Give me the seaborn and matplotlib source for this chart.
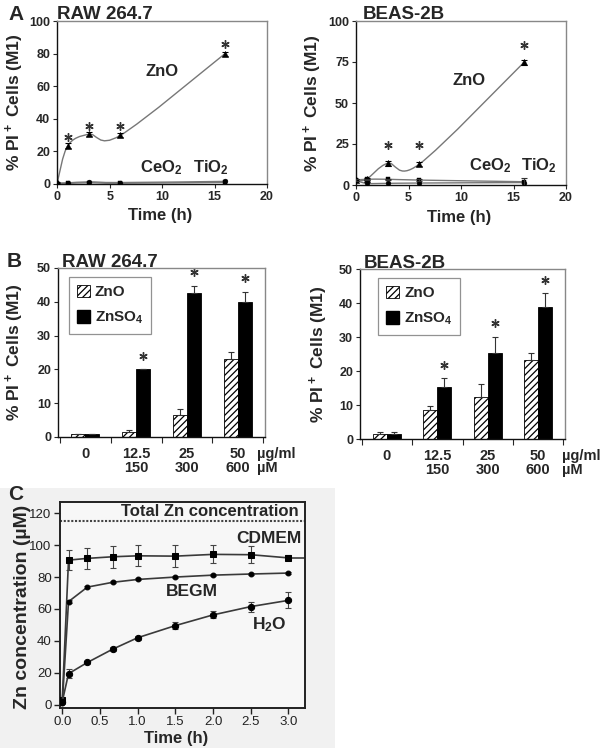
import numpy as np
import pandas as pd
import seaborn as sns
import matplotlib.pyplot as plt
from matplotlib.path import Path
from matplotlib.patches import PathPatch, Rectangle, Patch
from matplotlib.transforms import ScaledTranslation

sns.set_theme(style="ticks")
plt.rcParams['font.family'] = ['Liberation Sans', 'DejaVu Sans']
plt.rcParams['font.weight'] = 'bold'
plt.rcParams['mathtext.fontset'] = 'custom'
plt.rcParams['mathtext.rm'] = 'Liberation Sans:bold'
plt.rcParams['mathtext.bf'] = 'Liberation Sans:bold'
plt.rcParams['mathtext.default'] = 'rm'
plt.rcParams['hatch.linewidth'] = 0.9

# ---------------- data: panel A (time course, % PI+ cells)
time_a = [0, 1, 3, 6, 16]
raw_zno = [1.0, 23.5, 30.5, 29.8, 80.0]
raw_zno_err = [0.5, 1.5, 1.2, 1.2, 1.2]
raw_ceo2 = [0.6, 0.7, 1.3, 0.9, 1.6]
raw_tio2 = [0.3, 0.4, 0.8, 0.5, 1.0]
raw_star_t = [1, 3, 6, 16]

beas_zno = [3.0, 3.5, 13.2, 12.6, 74.8]
beas_zno_err = [0.5, 0.5, 1.5, 1.2, 1.5]
beas_ceo2 = [3.0, 1.0, 1.0, 1.2, 1.5]
beas_tio2 = [3.0, 3.5, 3.5, 3.0, 2.0]
beas_tio2_err = [0.5, 0.3, 0.3, 0.5, 2.5]
beas_star_t = [3, 6, 16]

# ---------------- data: panel B (dose response)
conc_labels = ['0', '12.5\n150', '25\n300', '50\n600']
agents = ['ZnO', 'ZnSO4']
raw_b_zno = [1.0, 1.5, 6.5, 23.0]
raw_b_zno_err = [0.0, 0.7, 1.8, 2.2]
raw_b_znso4 = [1.0, 20.0, 42.5, 40.0]
raw_b_znso4_err = [0.0, 0.0, 2.3, 3.0]
raw_b_star = [False, True, True, True]

beas_b_zno = [1.5, 8.5, 12.5, 23.2]
beas_b_zno_err = [0.5, 1.2, 3.8, 2.2]
beas_b_znso4 = [1.5, 15.3, 25.3, 38.7]
beas_b_znso4_err = [0.5, 2.5, 4.7, 4.2]
beas_b_star = [False, True, True, True]

# ---------------- data: panel C (dissolution)
time_c = [0, 0.083, 0.333, 0.667, 1.0, 1.5, 2.0, 2.5, 3.0]
cdmem = [3.0, 90.6, 91.7, 92.7, 93.3, 93.1, 94.2, 94.0, 92.0]
cdmem_err = [1.0, 6.3, 6.8, 6.9, 6.5, 6.8, 5.7, 5.2, 1.5]
begm = [1.0, 64.6, 73.7, 76.7, 78.5, 80.0, 81.2, 81.9, 82.5]
begm_err = [0.5, 0.8, 0.6, 0.6, 0.6, 0.6, 0.6, 0.6, 0.8]
h2o = [2.0, 19.5, 26.5, 34.8, 42.0, 49.6, 56.3, 61.5, 65.4]
h2o_err = [1.0, 2.8, 1.2, 1.3, 1.2, 2.0, 2.2, 3.1, 5.0]
total_zn = 115

fig = plt.figure(figsize=(6, 7.52), dpi=100)
fig.patches.append(Rectangle((0, 4 / 752), 335 / 600, 260 / 752, transform=fig.transFigure,
                             facecolor='#f1f1f1', edgecolor='none', zorder=-5))


def smooth_path(x, y):
    # Excel-like smoothed line (Catmull-Rom as cubic Bezier)
    pts = np.column_stack([x, y]).astype(float)
    n = len(pts)
    verts, codes = [pts[0]], [Path.MOVETO]
    for i in range(n - 1):
        p0, p1 = pts[max(i - 1, 0)], pts[i]
        p2, p3 = pts[i + 1], pts[min(i + 2, n - 1)]
        verts += [p1 + (p2 - p0) / 6, p2 - (p3 - p1) / 6, p2]
        codes += [Path.CURVE4] * 3
    return Path(verts, codes)


def frame(ax, dark='#111111', light='#888888'):
    for s in ['left', 'bottom']:
        ax.spines[s].set_color(dark)
        ax.spines[s].set_linewidth(1.0)
    for s in ['top', 'right']:
        ax.spines[s].set_visible(True)
        ax.spines[s].set_color(light)
        ax.spines[s].set_linewidth(1.0)


def panel_a(rect, title, zno, zno_err, ceo2, tio2, tio2_err, star_t, star_off, yticks,
            zno_xy, ceo_x, tio_x, lab_y, title_dx, ylab_x):
    ax = fig.add_axes(rect)
    for vals, mk, ms in [(ceo2, 'o', 3.5), (tio2, 's', 3), (zno, '^', 4.5)]:
        ax.add_patch(PathPatch(smooth_path(time_a, vals), facecolor='none',
                               edgecolor='#777777', lw=1.0, zorder=2))
        sns.scatterplot(x=time_a, y=vals, marker=mk, s=ms ** 2, color='black',
                        edgecolor='black', linewidth=0.3, ax=ax, zorder=3, legend=False)
    ax.errorbar(time_a, zno, yerr=zno_err, fmt='none', ecolor='black', elinewidth=0.8,
                capsize=2, capthick=0.8, zorder=3)
    if tio2_err is not None:
        ax.errorbar(time_a, tio2, yerr=tio2_err, fmt='none', ecolor='#333333',
                    elinewidth=0.8, capsize=2, capthick=0.8, zorder=3)
    sy = [zno[time_a.index(t)] + star_off[i] for i, t in enumerate(star_t)]
    ax.plot(star_t, sy, ls='none', marker=(6, 2, 0), ms=6, mew=1.0, color='#333333')
    ax.text(zno_xy[0], zno_xy[1], 'ZnO', ha='center', va='center', fontsize=12)
    ax.text(ceo_x, lab_y, 'CeO$_2$', ha='center', va='center', fontsize=12)
    ax.text(tio_x, lab_y, 'TiO$_2$', ha='center', va='center', fontsize=12)
    ax.set_xlim(0, 20)
    ax.set_ylim(0, 100)
    ax.set_xticks([0, 5, 10, 15, 20])
    ax.set_yticks(yticks)
    ax.tick_params(labelsize=9, length=3, width=0.8, pad=2)
    ax.set_xlabel('Time (h)', fontsize=12, fontweight='bold')
    ax.set_ylabel('% PI$^+$ Cells (M1)', fontsize=12.5, fontweight='bold')
    ax.yaxis.set_label_coords(ylab_x, 0.5)
    ax.xaxis.set_label_coords(0.49, -0.15)
    ax.text(title_dx, 1.012, title, transform=ax.transAxes, ha='left', va='baseline',
            fontsize=13.5)
    frame(ax)
    return ax


panel_a([57.3 / 600, 1 - 184 / 752, 209.7 / 600, 163 / 752], 'RAW 264.7',
        raw_zno, raw_zno_err, raw_ceo2, raw_tio2, None, raw_star_t, [5.5, 5.2, 5.8, 6.0],
        [0, 20, 40, 60, 80, 100], (10, 69), 9.9, 14.7, 9.8, 0.0, -0.149)
panel_a([356 / 600, 1 - 185 / 752, 210 / 600, 164 / 752], 'BEAS-2B',
        beas_zno, beas_zno_err, beas_ceo2, beas_tio2, beas_tio2_err, beas_star_t,
        [11.2, 11.8, 10.6], [0, 25, 50, 75, 100], (10.8, 64), 12.8, 17.4, 12, 0.033, -0.15)


def panel_b(rect, title, zno, zno_err, znso4, znso4_err, stars, leg_xy, unit_x, ylab_x):
    ax = fig.add_axes(rect)
    df = pd.DataFrame({'conc': conc_labels * 2,
                       'val': zno + znso4,
                       'agent': [agents[0]] * 4 + [agents[1]] * 4})
    sns.barplot(data=df, x='conc', y='val', hue='agent', order=conc_labels,
                hue_order=agents, palette={'ZnO': 'white', 'ZnSO4': 'black'},
                width=0.56, edgecolor='black', linewidth=0.6, ax=ax, legend=False)
    bars = list(ax.patches)
    for p in bars[:4]:
        p.set_hatch('/////')
    xz = [p.get_x() + p.get_width() / 2 for p in bars[:4]]
    xs = [p.get_x() + p.get_width() / 2 for p in bars[4:8]]
    ax.errorbar(xz, zno, yerr=[np.zeros(4), zno_err], fmt='none', ecolor='#333333',
                elinewidth=0.8, capsize=2, capthick=0.8)
    ax.errorbar(xs, znso4, yerr=[np.zeros(4), znso4_err], fmt='none', ecolor='#333333',
                elinewidth=0.8, capsize=2, capthick=0.8)
    sx = [x for x, s in zip(xs, stars) if s]
    sy = [v + e + 4 for v, e, s in zip(znso4, znso4_err, stars) if s]
    ax.plot(sx, sy, ls='none', marker=(6, 2, 0), ms=6, mew=1.0, color='#333333')
    ax.set_xlim(-0.53, 3.53)
    ax.set_ylim(0, 50)
    ax.set_yticks([0, 10, 20, 30, 40, 50])
    ax.set_xticks([-0.5, 0.5, 1.5, 2.5, 3.5], minor=True)
    ax.tick_params(axis='x', which='major', length=0, pad=7, labelsize=10.5)
    ax.tick_params(axis='x', which='minor', length=4, width=0.8)
    ax.tick_params(axis='y', labelsize=9, length=3, width=0.8, pad=2)
    for lab in ax.get_xticklabels():
        lab.set_linespacing(1.05)
    ax.set_xlabel('')
    ax.set_ylabel('% PI$^+$ Cells (M1)', fontsize=12.5, fontweight='bold')
    ax.yaxis.set_label_coords(ylab_x, 0.5)
    tr = ax.transAxes + ScaledTranslation(0, -7 / 72, fig.dpi_scale_trans)
    ax.text(unit_x, 0, 'µg/ml\nµM', transform=tr, ha='left', va='top', fontsize=10.5,
            linespacing=1.05)
    ax.text(0.02, 1.005, title, transform=ax.transAxes, ha='left', va='baseline',
            fontsize=13.5)
    handles = [Patch(facecolor='white', edgecolor='black', hatch='/////', lw=0.6),
               Patch(facecolor='black', edgecolor='black')]
    leg = ax.legend(handles, ['ZnO', 'ZnSO$_4$'], loc='upper left', bbox_to_anchor=leg_xy,
                    borderaxespad=0, fancybox=False, edgecolor='#777777', fontsize=11,
                    handlelength=0.9, handleheight=0.9, handletextpad=0.3,
                    labelspacing=0.7, borderpad=0.5)
    leg.get_frame().set_linewidth(0.9)
    frame(ax)
    return ax


panel_b([58 / 600, 1 - 437 / 752, 207 / 600, 169 / 752], 'RAW 264.7',
        raw_b_zno, raw_b_zno_err, raw_b_znso4, raw_b_znso4_err, raw_b_star,
        (0.053, 0.947), 0.96, -0.155)
panel_b([360 / 600, 1 - 439 / 752, 205 / 600, 170 / 752], 'BEAS-2B',
        beas_b_zno, beas_b_zno_err, beas_b_znso4, beas_b_znso4_err, beas_b_star,
        (0.088, 0.947), 0.985, -0.148)

# ---------------- panel C
axc = fig.add_axes([60 / 600, 1 - 708 / 752, 245 / 600, 206 / 752])
axc.set_facecolor('#f7f7f7')
axc.set_xlim(-0.03, 3.22)
axc.set_ylim(-2, 127)
for vals, err, mk, ms in [(cdmem, cdmem_err, 's', 5), (begm, begm_err, 'o', 3.5),
                          (h2o, h2o_err, 'o', 4.5)]:
    sns.lineplot(x=time_c, y=vals, color='#3a3a3a', lw=1.2, marker=mk, markersize=ms,
                 markeredgecolor='black', markerfacecolor='black', ax=axc, zorder=3)
    axc.errorbar(time_c, vals, yerr=err, fmt='none', ecolor='#444444', elinewidth=0.8,
                 capsize=2, capthick=0.8, zorder=2)
axc.plot([time_c[-1], axc.get_xlim()[1]], [cdmem[-1], cdmem[-1]], color='#3a3a3a', lw=1.2)
axc.axhline(total_zn, color='#444444', lw=1.5, ls=(0, (1, 0.8)))
axc.text(3.13, 121, 'Total Zn concentration', ha='right', va='center', fontsize=12)
axc.text(3.17, 104, 'CDMEM', ha='right', va='center', fontsize=12.5)
axc.text(1.72, 70.8, 'BEGM', ha='center', va='center', fontsize=12.5)
axc.text(2.75, 50, 'H$_2$O', ha='center', va='center', fontsize=12.5)
axc.set_xticks([0, 0.5, 1.0, 1.5, 2.0, 2.5, 3.0])
axc.set_xticklabels([f'{t:.1f}' for t in [0, 0.5, 1.0, 1.5, 2.0, 2.5, 3.0]])
axc.set_yticks([0, 20, 40, 60, 80, 100, 120])
axc.tick_params(labelsize=9.5, length=4, width=1.0, pad=2, colors='#222222')
for lab in axc.get_xticklabels() + axc.get_yticklabels():
    lab.set_fontweight('normal')
axc.set_xlabel('Time (h)', fontsize=12, fontweight='bold')
axc.set_ylabel('Zn concentration (µM)', fontsize=14, fontweight='bold')
axc.yaxis.set_label_coords(-0.12, 0.49)
axc.xaxis.set_label_coords(0.472, -0.11)
for s in axc.spines.values():
    s.set_visible(True)
    s.set_color('#222222')
    s.set_linewidth(1.4)

# panel letters
fig.text(8 / 600, 1 - 20 / 752, 'A', fontsize=15, va='baseline')
fig.text(7 / 600, 1 - 267 / 752, 'B', fontsize=15, va='baseline')
fig.text(8 / 600, 1 - 500 / 752, 'C', fontsize=15, va='baseline')

fig.savefig('out.png', dpi=100)
